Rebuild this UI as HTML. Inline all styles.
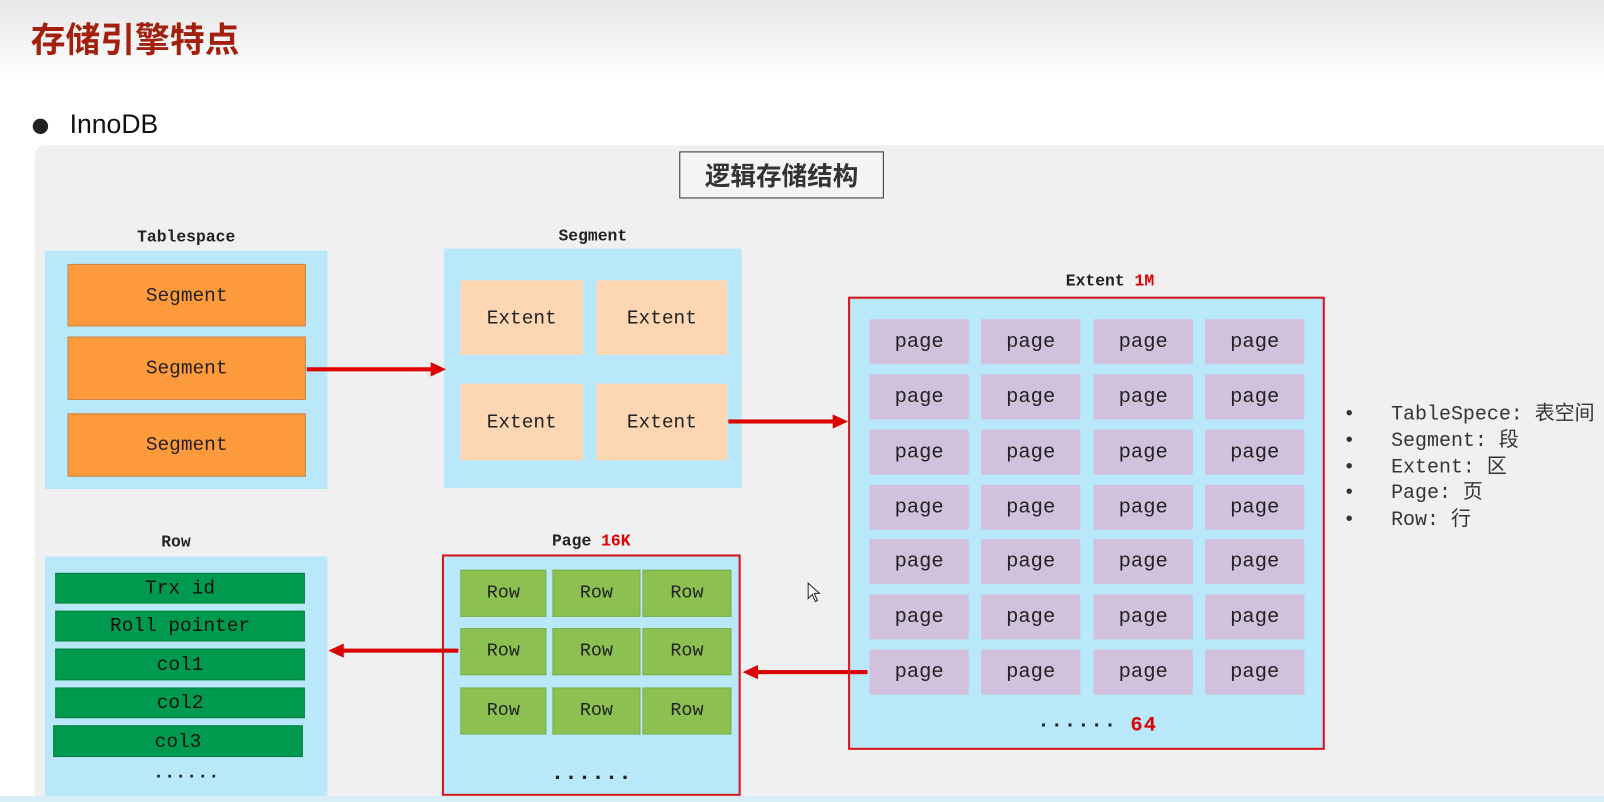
<!DOCTYPE html>
<html><head><meta charset="utf-8"><style>
*{margin:0;padding:0;box-sizing:border-box}
body{width:1604px;height:802px;overflow:hidden;background:#fff;position:relative}
#w{position:absolute;left:0;top:0;width:1568px;height:784px;transform:scale(1.023);transform-origin:0 0}
.a{position:absolute}
.m{font-family:"Liberation Mono","Noto Sans CJK SC",monospace;color:#222}
.c{display:flex;align-items:center;justify-content:center}
.lb{font-weight:bold;font-size:16px;text-align:center}
.blue{background:#b8e8fa}
.seg{background:#fd9a3c;border:1px solid #c9864a;font-size:19px}
.ext{background:#fdd7b4;font-size:19px}
.pg{background:#d2c1dd;font-size:20px;width:97px;height:44px}
.rw{background:#8cc152;font-size:18px;border:1px solid #7aad45}
.col{background:#009a4e;border:1px solid #06803f;font-size:19px;color:#111}
</style></head><body><div id="w">
<div class="a" style="left:0;top:0;width:1568px;height:75px;background:linear-gradient(#e6e6e6,#fff)"></div>
<div class="a" style="left:30px;top:12px;font:bold 34px 'Liberation Sans','Noto Sans CJK SC',sans-serif;color:#a3200f">存储引擎特点</div>
<div class="a" style="left:32px;top:116px;width:15px;height:15px;border-radius:50%;background:#222"></div>
<div class="a" style="left:68px;top:106px;font:26px 'Liberation Sans',sans-serif;color:#111">InnoDB</div>
<div class="a" style="left:34px;top:142px;width:1540px;height:640px;background:#f0f0f0;border-radius:10px 0 0 0"></div>
<div class="a c" style="left:664px;top:148px;width:200px;height:46px;border:1px solid #333;background:#f4f4f4;font:bold 25px 'Liberation Sans','Noto Sans CJK SC',sans-serif;color:#333">逻辑存储结构</div>

<div class="a m lb" style="left:44px;top:223px;width:276px">Tablespace</div>
<div class="a blue" style="left:44px;top:245px;width:276px;height:233px"></div>
<div class="a m c seg" style="left:66px;top:258px;width:233px;height:61px">Segment</div>
<div class="a m c seg" style="left:66px;top:329px;width:233px;height:62px">Segment</div>
<div class="a m c seg" style="left:66px;top:404px;width:233px;height:62px">Segment</div>

<div class="a m lb" style="left:434px;top:222px;width:291px">Segment</div>
<div class="a blue" style="left:434px;top:243px;width:291px;height:234px"></div>
<div class="a m c ext" style="left:450px;top:274px;width:120px;height:73px">Extent</div>
<div class="a m c ext" style="left:583px;top:274px;width:128px;height:73px">Extent</div>
<div class="a m c ext" style="left:450px;top:375px;width:120px;height:75px">Extent</div>
<div class="a m c ext" style="left:583px;top:375px;width:128px;height:75px">Extent</div>

<div class="a m lb" style="left:829px;top:266px;width:512px">Extent <span style="color:#d00">1M</span></div>
<div class="a blue" style="left:829px;top:290px;width:466px;height:443px;border:2px solid #d9141a"></div>
<div id="pages"></div>
<div class="a m" style="left:1014px;top:698px;font-size:20px;font-weight:bold;letter-spacing:1px">······ <span style="color:#d00">64</span></div>

<div class="a m" style="left:1313px;top:393px;font-size:19.5px;line-height:25.8px;color:#333">
<div>•&nbsp;&nbsp;&nbsp;TableSpece: 表空间</div><div>•&nbsp;&nbsp;&nbsp;Segment: 段</div><div>•&nbsp;&nbsp;&nbsp;Extent: 区</div><div>•&nbsp;&nbsp;&nbsp;Page: 页</div><div>•&nbsp;&nbsp;&nbsp;Row: 行</div></div>

<div class="a m lb" style="left:432px;top:520px;width:292px">Page <span style="color:#d00">16K</span></div>
<div class="a blue" style="left:432px;top:542px;width:292px;height:236px;border:2px solid #d9141a"></div>
<div id="rows"></div>
<div class="a m" style="left:432px;top:748px;width:292px;text-align:center;font-size:22px;font-weight:bold">······</div>

<div class="a m lb" style="left:44px;top:521px;width:256px">Row</div>
<div class="a blue" style="left:44px;top:544px;width:276px;height:234px"></div>
<div class="a m c col" style="left:54px;top:560px;width:244px;height:30px">Trx id</div>
<div class="a m c col" style="left:54px;top:597px;width:244px;height:30px">Roll pointer</div>
<div class="a m c col" style="left:54px;top:634px;width:244px;height:31px">col1</div>
<div class="a m c col" style="left:54px;top:672px;width:244px;height:30px">col2</div>
<div class="a m c col" style="left:52px;top:709px;width:244px;height:31px">col3</div>
<div class="a m" style="left:44px;top:750px;width:276px;text-align:center;font-size:18px;font-weight:bold">······</div>
<div class="a" style="left:0;top:778px;width:1568px;height:6px;background:#d8eef6"></div>

<svg class="a" style="left:0;top:0" width="1568" height="784">
<g fill="#d00" stroke="none">
<rect x="300" y="359" width="122" height="4"/><polygon points="436,361 421,354 421,368"/>
<rect x="712" y="410" width="104" height="4"/><polygon points="829,412 814,405 814,419"/>
<rect x="740" y="655" width="108" height="4"/><polygon points="726,657 741,650 741,664"/>
<rect x="334" y="634" width="114" height="4"/><polygon points="321,636 336,629 336,643"/>
</g>
<path d="M790 570 L790 585 L794 581 L797 588 L799 587 L796 580 L801 580 Z" fill="#fff" stroke="#222" stroke-width="1"/>
</svg>
</div>
<script>
var xs=[850,959,1069,1178],ys=[312,366,420,474,527,581,635],h='';
ys.forEach(function(y){xs.forEach(function(x){h+='<div class="a m c pg" style="left:'+x+'px;top:'+y+'px">page</div>';});});
document.getElementById('pages').outerHTML=h;
var rx=[[450,84],[540,86],[628,87]],ry=[557,614,672],r='';
ry.forEach(function(y){rx.forEach(function(x){r+='<div class="a m c rw" style="left:'+x[0]+'px;top:'+y+'px;width:'+x[1]+'px;height:46px">Row</div>';});});
document.getElementById('rows').outerHTML=r;
</script>
</body></html>
